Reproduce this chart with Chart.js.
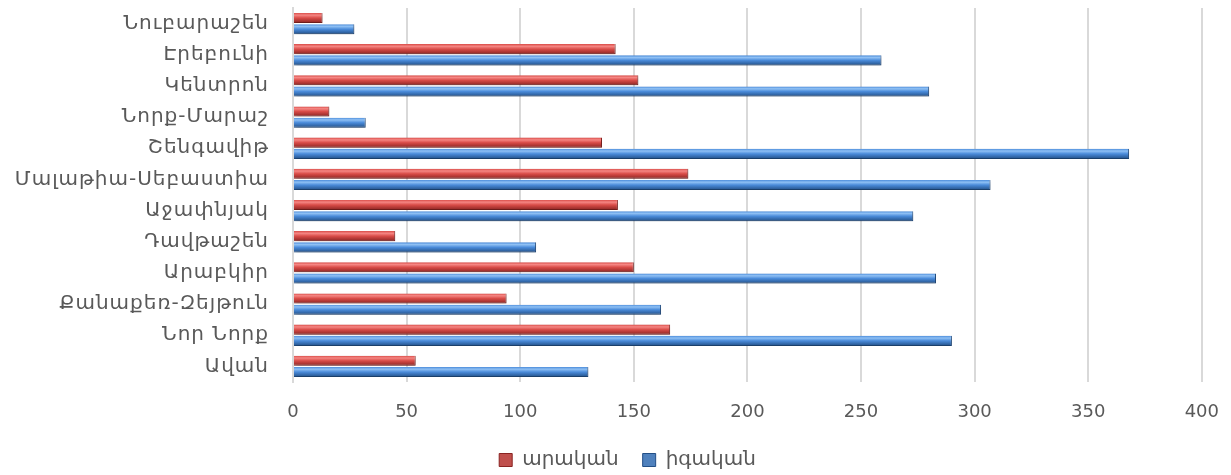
<!DOCTYPE html>
<html>
<head>
<meta charset="utf-8">
<script src="https://cdn.jsdelivr.net/npm/chart.js@4"></script>
<style>
html,body{margin:0;padding:0;background:#fff;}
#wrap{width:1231px;height:475px;position:relative;}
</style>
</head>
<body>
<div id="wrap"><canvas id="c" width="1231" height="475"></canvas></div>
<script>
const categories = ["Նուբարաշեն","Էրեբունի","Կենտրոն","Նորք-Մարաշ","Շենգավիթ","Մալաթիա-Սեբաստիա","Աջափնյակ","Դավթաշեն","Արաբկիր","Քանաքեռ-Զեյթուն","Նոր Նորք","Ավան"];
const male = [13,142,152,16,136,174,143,45,150,94,166,54];
const female = [27,259,280,32,368,307,273,107,283,162,290,130];
const seriesNames = ["արական","իգական"];
const xTicks = [0,50,100,150,200,250,300,350,400];

const CP = 0.72, BP = 0.9;
const palettes = [
  {light:'#F58683', mid:'#D94C48', dark:'#8A2422', solid:'#C0504D'},
  {light:'#8FC0F4', mid:'#4A8BDA', dark:'#224F86', solid:'#4F81BD'}
];
function barGradient(ctx){
  const chart = ctx.chart;
  const p = palettes[ctx.datasetIndex];
  const ys = chart.scales.y;
  if(!chart.chartArea || !ys || ctx.dataIndex === undefined) return p.solid;
  const n = categories.length;
  const cat = (ys.bottom - ys.top)/n;
  const slot = cat*CP/2;
  const center = ys.getPixelForValue(ctx.dataIndex);
  const bc = center + (ctx.datasetIndex===0 ? -slot/2 : slot/2);
  const h = slot*BP;
  const g = chart.ctx.createLinearGradient(0, bc-h/2, 0, bc+h/2);
  g.addColorStop(0, p.mid);
  g.addColorStop(0.22, p.light);
  g.addColorStop(0.5, p.mid);
  g.addColorStop(1, p.dark);
  return g;
}
const shadowPlugin = {
  id:'shadow',
  beforeDatasetsDraw(chart){
    const c = chart.ctx; c.save();
    c.shadowColor='rgba(0,0,0,0.28)'; c.shadowBlur=4; c.shadowOffsetX=1; c.shadowOffsetY=2;
  },
  afterDatasetsDraw(chart){ chart.ctx.restore(); }
};
const LEGEND_SHIFT = 12;
function shiftLegend(chart, d){
  const lg = chart.legend;
  if(!lg) return;
  lg.left += d; lg.right += d;
  (lg.legendHitBoxes||[]).forEach(h=>{ h.left += d; });
}
const legendShift = {
  id:'legendShift',
  beforeDraw(chart){ shiftLegend(chart, LEGEND_SHIFT); },
  afterDraw(chart){ shiftLegend(chart, -LEGEND_SHIFT); }
};
const FONT = "'DejaVu Sans',sans-serif";
new Chart(document.getElementById('c'), {
  type:'bar',
  data:{
    labels:categories,
    datasets:[
      {label:seriesNames[0], data:male, backgroundColor:barGradient, borderColor:palettes[0].dark, borderWidth:{top:0,left:0,right:1,bottom:1}, borderSkipped:'start', categoryPercentage:CP, barPercentage:BP},
      {label:seriesNames[1], data:female, backgroundColor:barGradient, borderColor:palettes[1].dark, borderWidth:{top:0,left:0,right:1,bottom:1}, borderSkipped:'start', categoryPercentage:CP, barPercentage:BP}
    ]
  },
  options:{
    indexAxis:'y',
    responsive:false,
    animation:false,
    layout:{padding:{top:8,right:0,bottom:-5,left:0}},
    scales:{
      x:{
        min:0,max:400,
        afterBuildTicks(s){ s.ticks = xTicks.map(v=>({value:v})); },
        afterFit(s){ s.height = 44; },
        grid:{color:'#D9D9D9', lineWidth:2, drawTicks:true, tickLength:8, tickColor:'rgba(0,0,0,0)'},
        border:{display:false},
        ticks:{color:'#595959', font:{family:FONT,size:18}, padding:12}
      },
      y:{
        afterFit(s){
          s.width = 293;
          if(!s._lsPatched){
            const orig = s.drawLabels;
            s.drawLabels = function(ca){
              const c = this.ctx; const prev = c.letterSpacing;
              c.letterSpacing = '1px';
              orig.call(this, ca);
              c.letterSpacing = prev || '0px';
            };
            s._lsPatched = true;
          }
        },
        grid:{display:false, drawTicks:true, tickLength:24},
        border:{display:true, color:'#D9D9D9', width:2},
        ticks:{color:'#595959', font:{family:FONT,size:20,lineHeight:0.8}, padding:0}
      }
    },
    plugins:{
      legend:{
        position:'bottom',
        labels:{
          color:'#595959', font:{family:FONT,size:20}, boxWidth:13, boxHeight:13, padding:24,
          generateLabels(chart){
            const items = Chart.defaults.plugins.legend.labels.generateLabels(chart);
            items.forEach((it,i)=>{ it.fillStyle = palettes[i].solid; it.strokeStyle = palettes[i].dark; it.lineWidth = 1; });
            return items;
          }
        }
      },
      tooltip:{enabled:false}
    }
  },
  plugins:[shadowPlugin, legendShift]
});
</script>
</body>
</html>
